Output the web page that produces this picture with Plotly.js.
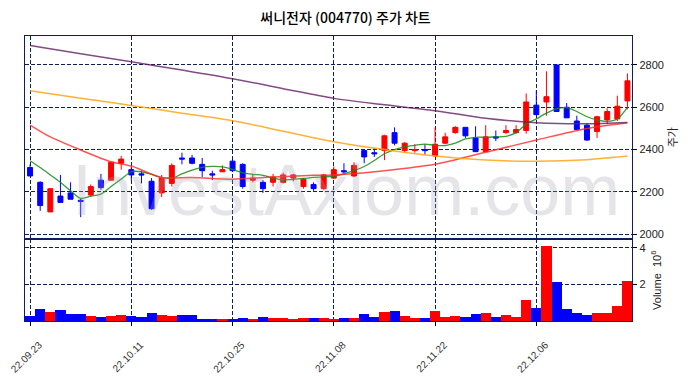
<!DOCTYPE html>
<html>
<head>
<meta charset="utf-8">
<script src="https://cdn.plot.ly/plotly-3.0.1.min.js"></script>
<style>html,body{margin:0;padding:0;background:#fff;}#chart{width:691px;height:378px;}</style>
</head>
<body>
<div id="chart"></div>
<script>
const dates = ["22.09.23","22.09.26","22.09.27","22.09.28","22.09.29","22.09.30","22.10.04","22.10.05","22.10.06","22.10.07",
"22.10.11","22.10.12","22.10.13","22.10.14","22.10.17","22.10.18","22.10.19","22.10.20","22.10.21","22.10.24",
"22.10.25","22.10.26","22.10.27","22.10.28","22.10.31","22.11.01","22.11.02","22.11.03","22.11.04","22.11.07",
"22.11.08","22.11.09","22.11.10","22.11.11","22.11.14","22.11.15","22.11.16","22.11.17","22.11.18","22.11.21",
"22.11.22","22.11.23","22.11.24","22.11.25","22.11.28","22.11.29","22.11.30","22.12.01","22.12.02","22.12.05",
"22.12.06","22.12.07","22.12.08","22.12.09","22.12.12","22.12.13","22.12.14","22.12.15","22.12.16","22.12.19"];

const openP  = [2315,2245,2105,2180,2195,2160,2185,2255,2255,2335, 2305,2285,2250,2195,2240,2360,2360,2330,2285,2295,
                2345,2330,2255,2245,2245,2245,2265,2225,2235,2215, 2265,2300,2275,2395,2385,2395,2480,2395,2395,2400,
                2370,2430,2480,2505,2455,2390,2460,2480,2480,2490, 2610,2625,2800,2600,2535,2515,2485,2540,2545,2630];
const highP  = [2330,2250,2215,2280,2245,2170,2235,2285,2340,2370, 2320,2300,2265,2280,2335,2385,2375,2360,2300,2325,
                2355,2335,2285,2255,2285,2290,2285,2265,2245,2285, 2320,2335,2340,2395,2405,2470,2505,2435,2425,2425,
                2505,2480,2510,2505,2510,2515,2490,2515,2515,2665, 2680,2770,2800,2620,2560,2525,2560,2595,2655,2760];
const lowP   = [2275,2110,2105,2150,2165,2080,2175,2210,2255,2305, 2255,2240,2115,2175,2225,2330,2330,2270,2255,2295,
                2295,2215,2245,2195,2225,2240,2250,2215,2205,2210, 2260,2285,2270,2335,2365,2350,2420,2385,2385,2375,
                2365,2425,2475,2455,2390,2390,2440,2475,2475,2475, 2565,2560,2580,2550,2490,2440,2455,2520,2535,2590];
const closeP = [2275,2135,2215,2150,2165,2155,2225,2220,2340,2355, 2280,2280,2120,2265,2325,2355,2335,2300,2280,2305,
                2300,2225,2265,2215,2270,2280,2280,2260,2215,2280, 2305,2295,2325,2365,2380,2465,2430,2430,2400,2395,
                2425,2460,2505,2465,2390,2460,2455,2490,2495,2625, 2565,2650,2580,2550,2495,2445,2555,2580,2605,2725];
const volumeM = [0.27,0.66,0.49,0.60,0.38,0.38,0.27,0.22,0.27,0.33, 0.27,0.22,0.44,0.33,0.27,0.33,0.33,0.11,0.11,0.11,
                 0.11,0.16,0.11,0.22,0.16,0.16,0.11,0.16,0.16,0.16, 0.11,0.16,0.16,0.38,0.22,0.49,0.55,0.27,0.16,0.16,
                 0.55,0.22,0.27,0.22,0.38,0.44,0.22,0.33,0.22,1.15, 0.71,4.07,2.14,0.66,0.44,0.33,0.44,0.44,0.82,2.20];

const ma5 = [2347,2315,2280,2245,2205,2169,2180,2189,2225,2260, 2295,2295,2282,2268,2264,2285,2303,2316,2320,2318,
             2306,2290,2283,2278,2266,2256,2259,2263,2268,2270, 2274,2285,2300,2320,2348,2380,2400,2413,2420,2426,
             2420,2419,2430,2450,2458,2458,2460,2462,2480,2520, 2545,2572,2592,2598,2580,2555,2540,2533,2545,2600];
const ma20Idx = [0,2,5,8,10,13,16,20,24,28,30,35,40,45,50,55,59];
const ma20    = [2516,2460,2398,2342,2322,2268,2268,2260,2270,2278,2280,2300,2330,2387,2445,2500,2527];
const maLongIdx = [0,5,10,15,20,25,30,35,40,45,50,55,59];
const ma60  = [2678,2643,2608,2572,2536,2487,2437,2400,2369,2350,2345,2352,2369];
const ma120 = [2892,2853,2815,2776,2735,2688,2642,2612,2584,2548,2527,2522,2528];

const tickDates = ["22.09.23","22.10.11","22.10.25","22.11.08","22.11.22","22.12.06"];
const priceTicks = [2000,2200,2400,2600,2800];
const volTicks = [2,4];

const UP = '#ff0000', DOWN = '#0000ff';
const NAVY = '#0c1e5b';
const volColors = closeP.map((c,i) => c >= openP[i] ? UP : DOWN);

function maTrace(idx, vals, color, width) {
  return {type:'scatter', mode:'lines', x: idx.map(i => dates[i]), y: vals,
    line:{color:color, width:width, shape:'spline', smoothing:0.8}, hoverinfo:'skip', xaxis:'x', yaxis:'y'};
}

const traces = [
  {type:'candlestick', x:dates, open:openP, high:highP, low:lowP, close:closeP,
   increasing:{line:{color:UP, width:1}, fillcolor:UP},
   decreasing:{line:{color:DOWN, width:1}, fillcolor:DOWN},
   whiskerwidth:0, hoverinfo:'skip', xaxis:'x', yaxis:'y'},
  maTrace(dates.map((d,i)=>i), ma5, 'rgba(20,140,20,0.85)', 1.3),
  maTrace(ma20Idx, ma20, 'rgba(255,40,40,0.8)', 1.5),
  maTrace(maLongIdx, ma60, 'rgba(255,165,20,0.85)', 1.5),
  maTrace(maLongIdx, ma120, 'rgba(100,30,100,0.8)', 1.5),
  {type:'bar', x:dates, y:volumeM, marker:{color:volColors, line:{width:0}}, hoverinfo:'skip', xaxis:'x2', yaxis:'y2'}
];

const gridCommon = {showgrid:true, gridcolor:NAVY, gridwidth:1, griddash:'4px,2px',
  showline:true, linecolor:NAVY, linewidth:1.2, mirror:true, zeroline:false};

const layout = {
  width:691, height:378,
  margin:{l:25, r:59, t:36, b:57},
  paper_bgcolor:'#ffffff', plot_bgcolor:'#ffffff',
  showlegend:false,
  bargap:0,
  title:{text:'써니전자 (004770) 주가 차트', font:{family:'Noto Sans CJK KR', size:14, color:'#000', weight:500},
         x:0.5, xanchor:'center', y:0.952, yanchor:'middle', yref:'container'},
  xaxis: Object.assign({}, gridCommon, {domain:[0,1], anchor:'y', type:'category', categoryorder:'array', categoryarray:dates,
    range:[-0.5,59.45], tickvals:tickDates, showticklabels:false, ticks:'', rangeslider:{visible:false}}),
  xaxis2: Object.assign({}, gridCommon, {domain:[0,1], anchor:'y2', type:'category', categoryorder:'array', categoryarray:dates,
    matches:'x', range:[-0.5,59.45], tickvals:tickDates, ticktext:tickDates, tickangle:-45, ticks:'outside', ticklen:4,
    ticklabelshift:9, ticklabelstandoff:9,
    tickcolor:'#000', tickfont:{family:'Liberation Sans', size:10, color:'#333'}}),
  yaxis: Object.assign({}, gridCommon, {domain:[0.29,1], anchor:'x', side:'right', range:[1980,2937], tickvals:priceTicks,
    ticks:'outside', ticklen:4, tickcolor:'#000', tickfont:{family:'Liberation Sans', size:11, color:'#222'},
    title:{text:'주가', font:{family:'Noto Sans CJK KR', size:11, color:'#222'}, standoff:0}}),
  yaxis2: Object.assign({}, gridCommon, {domain:[0,0.286], anchor:'x2', side:'right', range:[0,4.45], tickvals:volTicks,
    ticks:'outside', ticklen:4, tickcolor:'#000', tickfont:{family:'Liberation Sans', size:11, color:'#222'},
    title:{text:'Volume  10<sup>6</sup>', font:{family:'Liberation Sans', size:11, color:'#222'}, standoff:8}}),
  annotations:[{text:'InvestAxiom.com', xref:'paper', yref:'paper', x:0.529, y:0.46, xanchor:'center', yanchor:'middle',
    showarrow:false, font:{family:'Liberation Sans', size:72, color:'rgba(160,160,175,0.28)'}}]
};

Plotly.newPlot('chart', traces, layout, {displayModeBar:false, staticPlot:true});
</script>
</body>
</html>
